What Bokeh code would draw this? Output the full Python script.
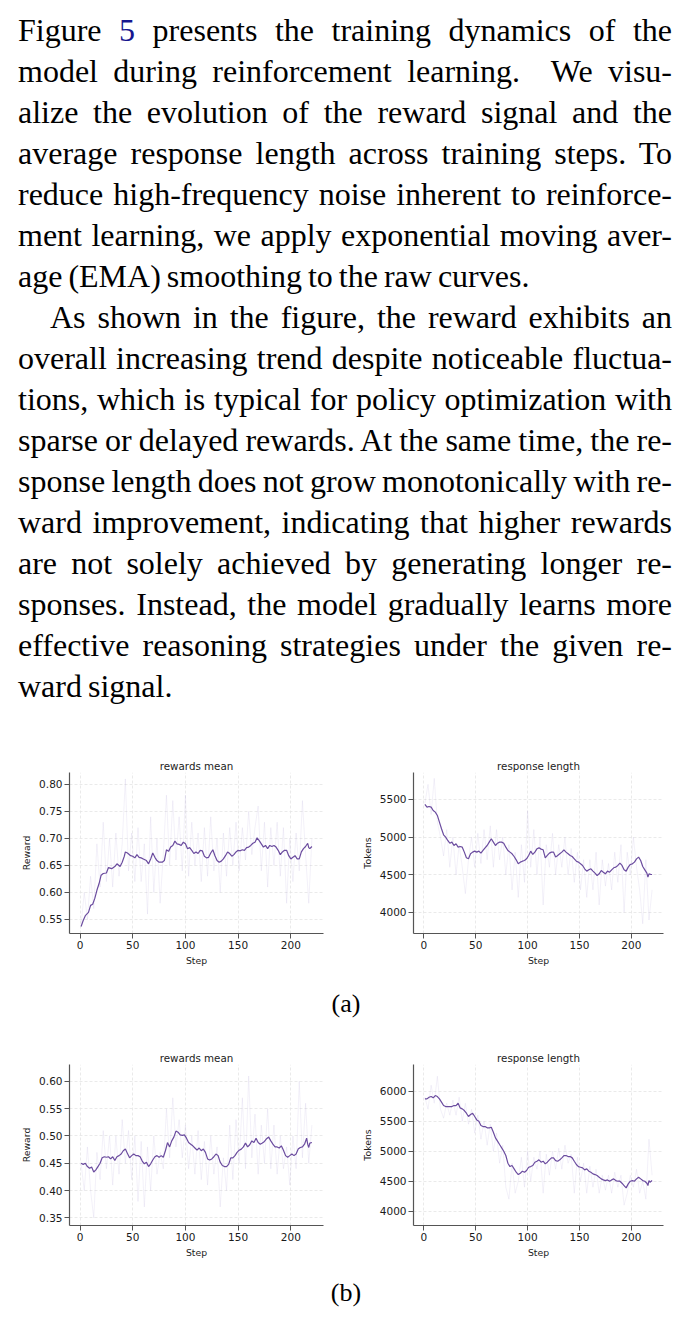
from bokeh.plotting import figure
from bokeh.models import Div, Range1d, FixedTicker, PrintfTickFormatter
from bokeh.layouts import column, row
from bokeh.embed import file_html
from bokeh.resources import INLINE

# ---------------- data ----------------
x_ticks = [0, 50, 100, 150, 200]

raw_steps = [1, 4, 7, 10, 13, 16, 19, 22, 25, 28, 31, 34, 37, 40, 43, 46, 49, 52, 55, 58,
             61, 64, 67, 70, 73, 76, 79, 82, 85, 88, 91, 94, 97, 100, 103, 106, 109, 112, 115, 118,
             121, 124, 127, 130, 133, 136, 139, 142, 145, 148, 151, 154, 157, 160, 163, 166, 169, 172, 175, 178,
             181, 184, 187, 190, 193, 196, 199, 202, 205, 208, 211, 214, 217, 220]

# (a) rewards mean
a_reward_raw = [0.54, 0.60, 0.55, 0.63, 0.57, 0.69, 0.61, 0.73, 0.62, 0.70, 0.61, 0.71, 0.63, 0.69, 0.81, 0.64, 0.71, 0.62, 0.72, 0.62,
                0.69, 0.56, 0.74, 0.60, 0.70, 0.58, 0.67, 0.78, 0.65, 0.77, 0.66, 0.74, 0.64, 0.78, 0.63, 0.73, 0.65, 0.71, 0.62, 0.72,
                0.63, 0.74, 0.64, 0.70, 0.60, 0.71, 0.63, 0.72, 0.65, 0.73, 0.64, 0.72, 0.66, 0.75, 0.67, 0.72, 0.76, 0.64, 0.73, 0.61,
                0.72, 0.65, 0.73, 0.63, 0.72, 0.58, 0.70, 0.62, 0.71, 0.64, 0.77, 0.67, 0.58, 0.70]
a_reward_steps = [1, 3, 5, 8, 10, 12, 14, 16, 18, 20, 22, 25, 27, 30, 33, 35, 38, 40, 42, 43, 45, 48, 50, 52, 54, 56, 58,
                  60, 63, 65, 67, 69, 71, 73, 75, 78, 80, 82, 84, 86, 88, 90, 92, 94, 96, 98, 100, 102, 104, 106, 108,
                  110, 112, 114, 116, 118, 120, 122, 124, 126, 128, 130, 132, 134, 136, 138, 140, 142, 144, 146, 148,
                  150, 152, 154, 156, 158, 160, 162, 164, 166, 168, 170, 172, 174, 176, 178, 180, 182, 184, 186, 188,
                  190, 192, 194, 196, 198, 200, 202, 204, 206, 208, 210, 212, 214, 216, 217, 218, 220]
a_reward_ema = [0.537, 0.548, 0.557, 0.563, 0.576, 0.578, 0.589, 0.604, 0.616, 0.632, 0.635, 0.636, 0.646, 0.644, 0.648, 0.653,
                0.648, 0.656, 0.667, 0.675, 0.673, 0.668, 0.667, 0.664, 0.670, 0.665, 0.664, 0.662, 0.659, 0.653, 0.662, 0.673,
                0.665, 0.659, 0.656, 0.656, 0.659, 0.679, 0.676, 0.684, 0.687, 0.695, 0.690, 0.689, 0.687, 0.693, 0.690, 0.681,
                0.683, 0.678, 0.672, 0.675, 0.672, 0.678, 0.677, 0.667, 0.664, 0.665, 0.673, 0.679, 0.668, 0.659, 0.656, 0.658,
                0.662, 0.668, 0.675, 0.672, 0.667, 0.670, 0.675, 0.678, 0.677, 0.679, 0.678, 0.683, 0.684, 0.687, 0.691, 0.693,
                0.701, 0.696, 0.690, 0.684, 0.687, 0.681, 0.687, 0.685, 0.687, 0.684, 0.678, 0.670, 0.675, 0.678, 0.678, 0.668,
                0.662, 0.665, 0.668, 0.662, 0.662, 0.675, 0.681, 0.685, 0.691, 0.683, 0.681, 0.685]

# (a) response length
a_len_raw = [5450, 5700, 5300, 5780, 5200, 5000, 4750, 5100, 4600, 5000, 4500, 4900, 4600, 4250, 4700, 5000, 4600, 5050, 4650, 5100,
             4700, 5150, 4600, 5100, 4700, 5000, 4500, 4900, 4300, 4800, 4200, 4900, 4400, 5350, 4600, 5100, 4500, 5000, 4100, 4900,
             4600, 5050, 4500, 4900, 4600, 5000, 4500, 4850, 4400, 4800, 4300, 4700, 4200, 4700, 4300, 4800, 4100, 4700, 4350, 4650,
             4300, 4800, 4400, 4900, 4000, 4800, 4500, 5000, 4600, 4300, 3850, 4700, 3900, 4300]
odd_steps = [1, 3, 5, 7, 9, 11, 13, 15, 17, 19, 21, 23, 25, 27, 29, 31, 33, 35, 37, 39, 41, 43, 45, 47, 49,
             51, 53, 55, 57, 59, 61, 63, 65, 67, 69, 71, 73, 75, 77, 79, 81, 83, 85, 87, 89, 91, 93, 95, 97, 99,
             101, 103, 105, 107, 109, 111, 113, 115, 117, 119, 121, 123, 125, 127, 129, 131, 133, 135, 137, 139,
             141, 143, 145, 147, 149, 151, 153, 155, 157, 159, 161, 163, 165, 167, 169, 171, 173, 175, 177, 179,
             181, 183, 185, 187, 189, 191, 193, 195, 197, 199, 201, 203, 205, 207, 209, 211, 213, 215, 216, 217, 219, 220]
a_len_ema = [5434, 5398, 5407, 5398, 5354, 5332, 5288, 5199, 5111, 5031, 5000, 4956, 4920, 4934, 4889, 4912, 4867, 4876, 4867, 4801,
             4726, 4712, 4779, 4801, 4814, 4801, 4814, 4788, 4823, 4858, 4889, 4934, 4978, 4934, 4889, 4920, 4934, 4934, 4920, 4867,
             4823, 4801, 4779, 4743, 4699, 4646, 4668, 4681, 4690, 4712, 4757, 4814, 4770, 4801, 4845, 4858, 4841, 4832, 4726, 4757,
             4788, 4801, 4801, 4735, 4757, 4779, 4801, 4832, 4801, 4779, 4757, 4743, 4712, 4681, 4668, 4646, 4624, 4580, 4549, 4566,
             4580, 4549, 4522, 4491, 4513, 4558, 4535, 4513, 4549, 4535, 4566, 4593, 4602, 4624, 4655, 4624, 4566, 4549, 4602, 4637,
             4646, 4668, 4712, 4735, 4690, 4611, 4566, 4522, 4469, 4513, 4504, 4504]

# (b) rewards mean
b_reward_raw = [0.45, 0.40, 0.48, 0.40, 0.35, 0.47, 0.42, 0.51, 0.44, 0.50, 0.41, 0.50, 0.43, 0.53, 0.45, 0.51, 0.42, 0.50, 0.38, 0.49,
                0.37, 0.48, 0.40, 0.50, 0.43, 0.47, 0.44, 0.55, 0.46, 0.57, 0.48, 0.53, 0.46, 0.52, 0.44, 0.50, 0.43, 0.51, 0.42, 0.49,
                0.41, 0.50, 0.43, 0.48, 0.37, 0.46, 0.40, 0.52, 0.42, 0.53, 0.45, 0.57, 0.44, 0.61, 0.46, 0.54, 0.43, 0.52, 0.45, 0.55,
                0.44, 0.52, 0.43, 0.50, 0.44, 0.48, 0.41, 0.50, 0.44, 0.60, 0.46, 0.56, 0.45, 0.52]
b_reward_steps = [1, 3, 5, 7, 9, 11, 13, 15, 17, 19, 21, 23, 25, 27, 29, 31, 33, 35, 37, 39, 41, 43, 45, 47, 49,
                  51, 53, 55, 57, 59, 61, 63, 65, 67, 69, 71, 73, 75, 77, 79, 81, 83, 85, 87, 89, 91, 93, 95, 97, 99,
                  101, 103, 105, 107, 109, 111, 113, 115, 117, 119, 121, 123, 125, 127, 129, 131, 133, 135, 137, 139,
                  141, 143, 145, 147, 149, 151, 153, 155, 157, 159, 161, 163, 165, 167, 169, 171, 173, 175, 177, 179,
                  181, 183, 185, 187, 189, 191, 193, 195, 197, 199, 201, 203, 205, 207, 209, 211, 213, 215, 216, 217, 218, 220]
b_reward_ema = [0.450, 0.448, 0.450, 0.444, 0.441, 0.443, 0.434, 0.438, 0.444, 0.450, 0.460, 0.462, 0.461, 0.462, 0.458, 0.462,
                0.455, 0.462, 0.464, 0.467, 0.473, 0.476, 0.468, 0.460, 0.464, 0.467, 0.464, 0.464, 0.462, 0.454, 0.449, 0.452,
                0.444, 0.449, 0.456, 0.462, 0.464, 0.461, 0.464, 0.461, 0.473, 0.488, 0.480, 0.491, 0.498, 0.509, 0.507, 0.502,
                0.501, 0.502, 0.496, 0.488, 0.485, 0.482, 0.478, 0.474, 0.478, 0.473, 0.476, 0.470, 0.458, 0.456, 0.458, 0.462,
                0.467, 0.464, 0.452, 0.446, 0.444, 0.444, 0.448, 0.460, 0.460, 0.464, 0.470, 0.474, 0.476, 0.480, 0.487, 0.480,
                0.484, 0.491, 0.488, 0.496, 0.488, 0.485, 0.487, 0.490, 0.495, 0.498, 0.491, 0.485, 0.480, 0.480, 0.478, 0.482,
                0.474, 0.464, 0.461, 0.464, 0.467, 0.464, 0.467, 0.476, 0.479, 0.480, 0.485, 0.496, 0.485, 0.479, 0.487, 0.488]

# (b) response length
b_len_raw = [5900, 5700, 6100, 5800, 6250, 5700, 5550, 5800, 5600, 5850, 5600, 5900, 5500, 5800, 5450, 5700, 5300, 5600, 5200, 5500,
             5100, 5450, 5000, 5300, 4800, 5100, 4400, 4200, 4800, 4300, 4500, 4900, 4400, 5000, 4500, 4900, 4700, 5000, 4300, 4950,
             4600, 5000, 4700, 5050, 4700, 5100, 4800, 4950, 4300, 4900, 4500, 4800, 4300, 4750, 4400, 4700, 4300, 4600, 4350, 4600,
             4300, 4650, 4400, 4600, 4100, 4300, 4600, 4400, 4700, 4300, 4500, 4200, 5200, 4600]
b_len_steps = [1, 3, 5, 7, 9, 11, 13, 15, 17, 19, 21, 23, 25, 27, 29, 31, 33, 35, 37, 39, 41, 43, 45, 47, 49,
               51, 53, 55, 57, 59, 61, 63, 65, 67, 69, 71, 73, 75, 77, 79, 81, 83, 85, 87, 89, 91, 93, 95, 97, 99,
               101, 103, 105, 107, 109, 111, 113, 115, 117, 119, 121, 123, 125, 127, 129, 131, 133, 135, 137, 139,
               141, 143, 145, 147, 149, 151, 153, 155, 157, 159, 161, 163, 165, 167, 169, 171, 173, 175, 177, 179,
               181, 183, 185, 187, 189, 191, 193, 195, 197, 199, 201, 203, 205, 207, 209, 211, 213, 215, 216, 217, 218, 220]
b_len_ema = [5872, 5872, 5900, 5911, 5889, 5928, 5911, 5872, 5817, 5761, 5744, 5744, 5744, 5744, 5761, 5761, 5800, 5722, 5706, 5678,
             5633, 5578, 5611, 5633, 5578, 5522, 5500, 5428, 5411, 5411, 5389, 5389, 5400, 5317, 5222, 5167, 5111, 5056, 5000, 4928,
             4800, 4744, 4761, 4706, 4650, 4611, 4633, 4667, 4650, 4678, 4733, 4744, 4761, 4817, 4833, 4856, 4817, 4833, 4789, 4817,
             4856, 4889, 4889, 4844, 4833, 4856, 4889, 4928, 4928, 4911, 4911, 4889, 4833, 4778, 4744, 4733, 4722, 4689, 4706, 4667,
             4650, 4622, 4611, 4594, 4567, 4539, 4522, 4511, 4522, 4500, 4522, 4539, 4511, 4500, 4500, 4467, 4428, 4389, 4456, 4500,
             4511, 4500, 4539, 4567, 4539, 4511, 4500, 4467, 4428, 4511, 4483, 4511]

reward_ticks_a = [0.55, 0.60, 0.65, 0.70, 0.75, 0.80]
length_ticks_a = [4000, 4500, 5000, 5500]
reward_ticks_b = [0.35, 0.40, 0.45, 0.50, 0.55, 0.60]
length_ticks_b = [4000, 4500, 5000, 5500, 6000]

para1 = ["Figure <span style='color:#16168f'>5</span> presents the training dynamics of the",
         "model during reinforcement learning. &nbsp;We visu-",
         "alize the evolution of the reward signal and the",
         "average response length across training steps. To",
         "reduce high-frequency noise inherent to reinforce-",
         "ment learning, we apply exponential moving aver-",
         "age (EMA) smoothing to the raw curves."]
para2 = ["As shown in the figure, the reward exhibits an",
         "overall increasing trend despite noticeable fluctua-",
         "tions, which is typical for policy optimization with",
         "sparse or delayed rewards. At the same time, the re-",
         "sponse length does not grow monotonically with re-",
         "ward improvement, indicating that higher rewards",
         "are not solely achieved by generating longer re-",
         "sponses. Instead, the model gradually learns more",
         "effective reasoning strategies under the given re-",
         "ward signal."]

# ---------------- styling ----------------
EMA_COLOR = "#6b4c9f"
RAW_COLOR = "#b7aedd"
SANS = "DejaVu Sans"


def make_fig(title, ylabel, rx, ry, ex, ey, yr, yticks, fmt, bl, br, bt, bb, w, h):
    p = figure(width=w, height=h, output_backend="svg", toolbar_location=None,
               x_range=Range1d(-10, 231), y_range=Range1d(*yr),
               min_border_left=bl, min_border_right=br, min_border_top=bt, min_border_bottom=bb,
               background_fill_color="white", border_fill_color="white", outline_line_color=None)
    p.title.text = title
    p.title.align = "center"
    p.title.text_font = SANS
    p.title.text_font_size = "10.3px"
    p.title.text_font_style = "normal"
    p.title.text_color = "#222222"
    p.title.standoff = 2
    p.line(rx, ry, line_color=RAW_COLOR, line_alpha=0.22, line_width=0.8)
    p.line(ex, ey, line_color=EMA_COLOR, line_width=1.2)
    for ax in (p.xaxis[0], p.yaxis[0]):
        ax.axis_line_color = "#555555"
        ax.axis_line_width = 1.2
        ax.major_tick_line_color = "#555555"
        ax.major_tick_in = 0
        ax.major_tick_out = 5
        ax.minor_tick_line_color = None
        ax.major_label_text_font = SANS
        ax.major_label_text_font_size = "10.5px"
        ax.major_label_text_color = "#1a1a1a"
        ax.major_label_standoff = 2
        ax.axis_label_text_font = SANS
        ax.axis_label_text_font_size = "9.3px"
        ax.axis_label_text_font_style = "normal"
        ax.axis_label_text_color = "#222222"
    p.xaxis.ticker = FixedTicker(ticks=x_ticks)
    p.yaxis.ticker = FixedTicker(ticks=yticks)
    p.yaxis.formatter = PrintfTickFormatter(format=fmt)
    p.xaxis.axis_label = "Step"
    p.yaxis.axis_label = ylabel
    p.xaxis.axis_label_standoff = 3
    p.yaxis.axis_label_standoff = 4
    for g in (p.xgrid[0], p.ygrid[0]):
        g.grid_line_color = "#e4e4e4"
        g.grid_line_dash = "3 2"
        g.grid_line_width = 0.8
    return p


fa1 = make_fig("rewards mean", "Reward", raw_steps, a_reward_raw, a_reward_steps, a_reward_ema,
               (0.524, 0.822), reward_ticks_a, "%.2f", 69, 23, 27, 52, 346, 240)
fa2 = make_fig("response length", "Tokens", raw_steps, a_len_raw, odd_steps, a_len_ema,
               (3721, 5858), length_ticks_a, "%d", 67, 29, 27, 52, 346, 240)
fb1 = make_fig("rewards mean", "Reward", raw_steps, b_reward_raw, b_reward_steps, b_reward_ema,
               (0.336, 0.631), reward_ticks_b, "%.2f", 69, 23, 29, 50, 346, 240)
fb2 = make_fig("response length", "Tokens", raw_steps, b_len_raw, b_len_steps, b_len_ema,
               (3762, 6445), length_ticks_b, "%d", 67, 29, 29, 50, 346, 240)


def line_html(s, last=False, indent=False):
    al = "left" if last else "justify"
    ind = "text-indent:32px;" if indent else ""
    return (f"<div style='height:41px;line-height:41px;text-align:justify;text-align-last:{al};{ind}'>"
            f"{s}</div>")


html = ["<div style=\"font-family:'Liberation Serif';font-size:32px;color:#000;width:654px;"
        "margin-left:18px;padding-top:10px;word-spacing:-2px;\">"]
for i, s in enumerate(para1):
    html.append(line_html(s, last=(i == len(para1) - 1)))
for i, s in enumerate(para2):
    html.append(line_html(s, last=(i == len(para2) - 1), indent=(i == 0)))
html.append("</div>")
text_div = Div(text="".join(html), width=692, height=745, margin=0)


def caption(t, pad, h):
    return Div(text=(f"<div style=\"font-family:'Liberation Serif';font-size:26px;line-height:30px;"
                     f"width:692px;text-align:center;padding-top:{pad}px;padding-left:0px;\">{t}</div>"),
               width=692, height=h, margin=0)


cap_a = caption("(a)", 4, 50)
cap_b = caption("(b)", 3, 55)

layout = column(text_div,
                row(fa1, fa2, spacing=0, margin=0),
                cap_a,
                row(fb1, fb2, spacing=0, margin=0),
                cap_b, spacing=0, margin=0)

open("out.html", "w").write(file_html(layout, INLINE))
